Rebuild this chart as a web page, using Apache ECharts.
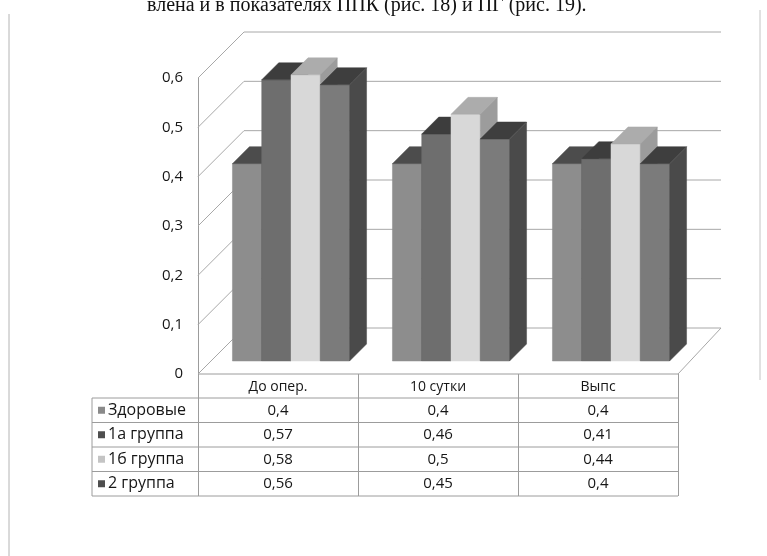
<!DOCTYPE html>
<html>
<head>
<meta charset="utf-8">
<script src="https://cdn.jsdelivr.net/npm/echarts@6/dist/echarts.min.js"></script>
<style>
  html, body { margin: 0; padding: 0; background: #ffffff; }
  #chart { width: 767px; height: 556px; }
</style>
</head>
<body>
<div id="chart"></div>
<script>
// Categories (periods) and the four groups' values
const categories = ['До опер.', '10 сутки', 'Выпс'];
const seriesNames = ['Здоровые', '1а группа', '1б группа', '2 группа'];
const zdorovye = [0.4, 0.4, 0.4];
const gruppa1a = [0.57, 0.46, 0.41];
const gruppa1b = [0.58, 0.5, 0.44];
const gruppa2 = [0.56, 0.45, 0.4];
const yTicks = [0, 0.1, 0.2, 0.3, 0.4, 0.5, 0.6];
const captionLine = 'влена и в показателях ППК (рис. 18) и ПГ (рис. 19).';

const seriesValues = [zdorovye, gruppa1a, gruppa1b, gruppa2];

// Face shades for each group: front, top, right side
const shades = [
  { front: '#8d8d8d', top: '#4c4c4c', side: '#5a5a5a', key: '#8a8a8a' },
  { front: '#6e6e6e', top: '#3d3d3d', side: '#474747', key: '#4e4e4e' },
  { front: '#d8d8d8', top: '#acacac', side: '#9c9c9c', key: '#c4c4c4' },
  { front: '#7b7b7b', top: '#3e3e3e', side: '#4a4a4a', key: '#4e4e4e' }
];

// Oblique depth of the plot box and of the bars (pixels, up-right)
const WALL_DEPTH = 46;
const BAR_FRONT = 13;
const BAR_DEPTH = 17;
const BAR_FRAC = 0.183;

const FONT = '"Open Sans", "Noto Sans", sans-serif';
const GRID_COLOR = '#a8a8a8';
const TEXT_COLOR = '#161616';

const fmt = v => String(v).replace('.', ',');

function barRenderer(k) {
  const c = shades[k];
  return function (params, api) {
    const cat = api.value(0);
    const v = api.value(1);
    const base = api.coord([cat, 0]);
    const top = api.coord([cat, v]);
    const band = api.size([1, 0])[0];
    const bw = band * BAR_FRAC;
    const x0 = base[0] - 2 * bw + k * bw + BAR_FRONT;
    const x1 = x0 + bw;
    const yb = base[1] - BAR_FRONT;
    const yt = top[1] - BAR_FRONT;
    const d = BAR_DEPTH;
    return {
      type: 'group',
      children: [
        { type: 'polygon', shape: { points: [[x0, yt], [x1, yt], [x1, yb], [x0, yb]] },
          style: { fill: c.front, stroke: c.front, lineWidth: 0.5 } },
        { type: 'polygon', shape: { points: [[x0, yt], [x0 + d, yt - d], [x1 + d, yt - d], [x1, yt]] },
          style: { fill: c.top, stroke: c.top, lineWidth: 0.5 } },
        { type: 'polygon', shape: { points: [[x1, yt], [x1 + d, yt - d], [x1 + d, yb - d], [x1, yb]] },
          style: { fill: c.side, stroke: c.side, lineWidth: 0.5 } }
      ]
    };
  };
}

// Side-wall diagonals, back-wall gridlines and the floor outline
function wallRenderer(params, api) {
  const v = api.value(0);
  const cs = params.coordSys;
  const left = cs.x, right = cs.x + cs.width;
  const y = api.coord([0, v])[1];
  const D = WALL_DEPTH;
  const children = [
    { type: 'line', shape: { x1: left, y1: y, x2: left + D, y2: y - D },
      style: { stroke: GRID_COLOR, lineWidth: 1 } },
    { type: 'line', shape: { x1: left + D, y1: y - D, x2: right + D - 3, y2: y - D },
      style: { stroke: GRID_COLOR, lineWidth: 1 } }
  ];
  if (v === 0) {
    children.push({ type: 'line', shape: { x1: right, y1: y, x2: right + D - 3, y2: y - D },
      style: { stroke: GRID_COLOR, lineWidth: 1 } });
  }
  return { type: 'group', children: children };
}

const chart = echarts.init(document.getElementById('chart'), null, { renderer: 'canvas' });

const barSeries = seriesValues.map((vals, k) => ({
  type: 'custom',
  name: seriesNames[k],
  renderItem: barRenderer(k),
  encode: { x: 0, y: 1 },
  data: vals.map((v, i) => [i, v]),
  z: 3
}));

chart.setOption({
  animation: false,
  backgroundColor: '#ffffff',
  grid: { left: 198, right: 89, top: 78, bottom: 182, containLabel: false },
  xAxis: {
    type: 'category',
    data: categories,
    axisLine: { show: false },
    axisTick: { show: true, length: 122, interval: 0, lineStyle: { color: '#9c9c9c' } },
    axisLabel: { show: true, margin: 6, fontFamily: FONT, fontSize: 14, color: TEXT_COLOR, interval: 0 },
    splitLine: { show: false }
  },
  yAxis: {
    type: 'value',
    min: 0,
    max: 0.6,
    interval: 0.1,
    axisLine: { show: true, lineStyle: { color: '#9c9c9c' } },
    axisTick: { show: false },
    splitLine: { show: false },
    axisLabel: { margin: 15, fontFamily: FONT, fontSize: 15, color: TEXT_COLOR, formatter: v => fmt(Math.round(v * 10) / 10) }
  },
  series: [
    { type: 'custom', name: 'walls', renderItem: wallRenderer, encode: { y: 0 },
      data: yTicks.map(v => [v]), z: 1, silent: true }
  ].concat(barSeries)
});

// Data table under the plot, aligned to the category bands
const zero = chart.convertToPixel({ yAxisIndex: 0 }, 0);
const plotLeft = 198, plotRight = 678;
const keyLeft = 92;
const headBottom = 398;
const rowH = 24.5;
const graphics = [];
const lineStyle = { stroke: '#9c9c9c', lineWidth: 1 };

graphics.push({ type: 'line', shape: { x1: plotLeft, y1: zero, x2: plotRight, y2: zero }, style: lineStyle });
for (let r = 0; r <= seriesNames.length; r++) {
  const y = headBottom + r * rowH;
  graphics.push({ type: 'line', shape: { x1: keyLeft, y1: y, x2: plotRight, y2: y }, style: lineStyle });
}
graphics.push({ type: 'line', shape: { x1: keyLeft, y1: headBottom, x2: keyLeft, y2: headBottom + seriesNames.length * rowH }, style: lineStyle });

seriesNames.forEach((name, r) => {
  const cy = headBottom + (r + 0.5) * rowH;
  graphics.push({ type: 'rect', shape: { x: 98, y: cy - 3.5, width: 7, height: 7 },
    style: { fill: shades[r].key } });
  graphics.push({ type: 'text', x: 108, y: cy,
    style: { text: name, font: '16px ' + FONT, fill: TEXT_COLOR, textAlign: 'left', textVerticalAlign: 'middle' } });
  seriesValues[r].forEach((v, i) => {
    const cx = chart.convertToPixel({ xAxisIndex: 0 }, i);
    graphics.push({ type: 'text', x: cx, y: cy,
      style: { text: fmt(v), font: '15px ' + FONT, fill: TEXT_COLOR, textAlign: 'center', textVerticalAlign: 'middle' } });
  });
});

// Page text line above the chart box and the box edges
graphics.push({ type: 'text', x: 147, y: 16,
  style: { text: captionLine, font: '20px "Liberation Serif", "DejaVu Serif", serif', fill: '#111111', textAlign: 'left', textVerticalAlign: 'bottom' } });
graphics.push({ type: 'line', shape: { x1: 9, y1: 14, x2: 9, y2: 556 }, style: { stroke: '#b4b4b4', lineWidth: 1 } });
graphics.push({ type: 'line', shape: { x1: 760, y1: 10, x2: 760, y2: 380 }, style: { stroke: '#c4c4c4', lineWidth: 1 } });

chart.setOption({ graphic: graphics });
</script>
</body>
</html>
